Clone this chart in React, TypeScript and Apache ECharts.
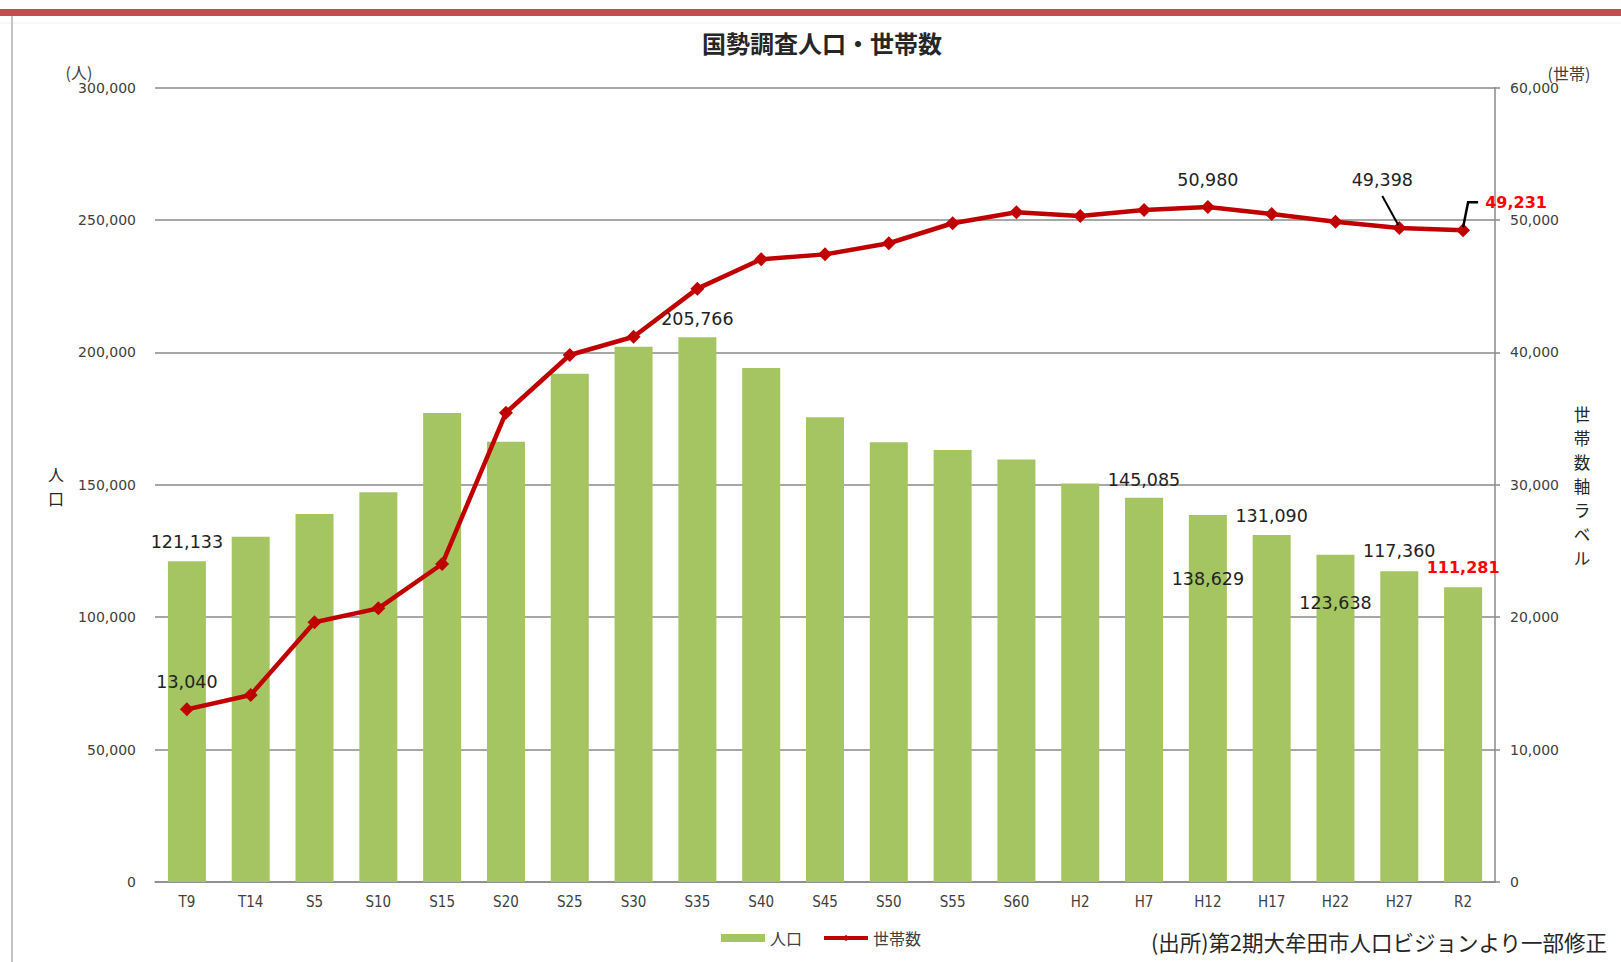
import React, { useEffect, useRef } from "react";
import * as echarts from "echarts";

const categories = ["T9", "T14", "S5", "S10", "S15", "S20", "S25", "S30", "S35", "S40", "S45", "S50", "S55", "S60", "H2", "H7", "H12", "H17", "H22", "H27", "R2"];
const population = [121133, 130400, 139000, 147200, 177100, 166300, 192000, 202200, 205766, 194100, 175500, 166100, 163200, 159600, 150500, 145085, 138629, 131090, 123638, 117360, 111281];
const households = [13040, 14130, 19620, 20670, 24020, 35450, 39810, 41190, 44820, 47040, 47410, 48250, 49760, 50590, 50310, 50760, 50980, 50460, 49880, 49398, 49231];
const leftTicks = [0, 50000, 100000, 150000, 200000, 250000, 300000];
const rightTicks = [0, 10000, 20000, 30000, 40000, 50000, 60000];

const TITLE = "国勢調査人口・世帯数";
const SOURCE = "(出所)第2期大牟田市人口ビジョンより一部修正";
const LEFT_NAME = "人口";
const RIGHT_NAME = "世帯数軸ラベル";

const fmt = (v: number) => v.toLocaleString("en-US");
const LABEL_FONT = "'DejaVu Sans', Verdana, sans-serif";
const CJK = "'Noto Sans CJK JP', 'Noto Sans', sans-serif";

const barLabelCfg: Record<number, any> = {
  0: { position: "top", distance: 10 },
  8: { position: "top", distance: 9 },
  15: { position: "top", distance: 9 },
  16: { position: "insideTop", distance: 55 },
  17: { position: "top", distance: 10 },
  18: { position: "insideTop", distance: 39 },
  19: { position: "top", distance: 11 },
  20: { position: "top", distance: 12, color: "#ff0000", fontWeight: "bold", fontSize: 16 },
};
const lineLabelCfg: Record<number, any> = {
  0: { position: "top", distance: 11 },
  16: { position: "top", distance: 11 },
  19: { position: "top", distance: 5, offset: [-17, -27] },
  20: { position: "top", distance: 5, offset: [53, -7.5], color: "#ff0000", fontWeight: "bold", fontSize: 16 },
};

function verticalText(str: string, x: number, yCenter: number, size: number, pitch: number) {
  const chars = Array.from(str);
  const y0 = yCenter - ((chars.length - 1) * pitch) / 2;
  return chars.map((c, i) => ({
    type: "text",
    x,
    y: y0 + i * pitch,
    style: {
      text: c,
      fontSize: size,
      lineHeight: pitch - 1,
      fontFamily: CJK,
      fill: "#262626",
      textAlign: "center",
      textVerticalAlign: "middle",
      align: "center",
      verticalAlign: "middle",
    },
  }));
}

export default function App() {
  const ref = useRef<HTMLDivElement>(null);
  useEffect(() => {
    if (!ref.current) return;
    const chart = echarts.init(ref.current, null, { renderer: "svg" });
    const baseLabel = {
      show: true,
      color: "#222",
      fontSize: 17.5,
      fontFamily: LABEL_FONT,
      formatter: (p: any) => fmt(p.value),
    };
    const barData = population.map((v, i) =>
      barLabelCfg[i] ? { value: v, label: { ...baseLabel, ...barLabelCfg[i] } } : v
    );
    const lineData = households.map((v, i) =>
      lineLabelCfg[i] ? { value: v, label: { ...baseLabel, ...lineLabelCfg[i] } } : v
    );
    chart.setOption({
      animation: false,
      backgroundColor: "#ffffff",
      title: {
        text: TITLE,
        left: 817,
        top: 23,
        textAlign: "center",
        textStyle: { fontFamily: CJK, fontSize: 24, fontWeight: "bold", color: "#262626", lineHeight: 28 },
      },
      legend: {
        left: 716,
        top: 925,
        itemWidth: 44,
        itemHeight: 8,
        itemGap: 20,
        textStyle: { fontFamily: CJK, fontSize: 16, color: "#404040" },
        data: [
          { name: "人口", icon: "rect" },
          { name: "世帯数", lineStyle: { width: 4, color: "#c00000" } },
        ],
      },
      grid: { left: 155, right: 126, top: 87.7, bottom: 80, containLabel: false },
      xAxis: {
        type: "category",
        data: categories,
        axisLine: { show: true, lineStyle: { color: "#8a8a8a", width: 1.5 } },
        axisTick: { show: false },
        axisLabel: {
          color: "#404040",
          fontSize: 15,
          margin: 12,
          fontFamily: "'Liberation Sans Narrow', 'DejaVu Sans Condensed', 'Liberation Sans', sans-serif",
        },
      },
      yAxis: [
        {
          type: "value",
          min: leftTicks[0],
          max: leftTicks[leftTicks.length - 1],
          interval: leftTicks[1] - leftTicks[0],
          axisLine: { show: false },
          axisTick: { show: false },
          axisLabel: { color: "#404040", fontSize: 14, fontFamily: LABEL_FONT, margin: 19, formatter: (v: number) => fmt(v) },
          splitLine: { show: true, lineStyle: { color: "#8a8a8a", width: 1.5 } },
        },
        {
          type: "value",
          min: rightTicks[0],
          max: rightTicks[rightTicks.length - 1],
          interval: rightTicks[1] - rightTicks[0],
          position: "right",
          axisLine: { show: true, lineStyle: { color: "#8a8a8a", width: 1.5 } },
          axisTick: { show: true, length: 5, lineStyle: { color: "#8a8a8a", width: 1.5 } },
          axisLabel: { color: "#404040", fontSize: 14, fontFamily: LABEL_FONT, margin: 15, formatter: (v: number) => fmt(v) },
          splitLine: { show: false },
        },
      ],
      series: [
        {
          name: "人口",
          type: "bar",
          yAxisIndex: 0,
          barWidth: 38,
          itemStyle: { color: "#a5c563" },
          data: barData,
          z: 2,
        },
        {
          name: "世帯数",
          type: "line",
          yAxisIndex: 1,
          symbol: "diamond",
          symbolSize: 14,
          itemStyle: { color: "#c00000" },
          lineStyle: { color: "#c00000", width: 4.5 },
          data: lineData,
          z: 3,
        },
      ],
    });

    const p19 = chart.convertToPixel({ seriesIndex: 1 }, [categories[19], households[19]]) as number[];
    const p20 = chart.convertToPixel({ seriesIndex: 1 }, [categories[20], households[20]]) as number[];

    chart.setOption({
      graphic: [
        { type: "rect", shape: { x: 0, y: 9, width: 1621, height: 7 }, style: { fill: "#c0504d" }, z: 1 },
        { type: "line", shape: { x1: 0, y1: 23, x2: 1621, y2: 23 }, style: { stroke: "#eeeeee", lineWidth: 1 }, z: 1 },
        { type: "line", shape: { x1: 12, y1: 16, x2: 12, y2: 962 }, style: { stroke: "#c4c4c4", lineWidth: 2 }, z: 1 },
        {
          type: "text",
          x: 79,
          y: 72,
          style: { text: "(人)", fontSize: 16, fontFamily: CJK, fill: "#404040", textAlign: "center", textVerticalAlign: "middle", align: "center", verticalAlign: "middle" },
        },
        {
          type: "text",
          x: 1569,
          y: 73,
          style: { text: "(世帯)", fontSize: 16, fontFamily: CJK, fill: "#404040", textAlign: "center", textVerticalAlign: "middle", align: "center", verticalAlign: "middle" },
        },
        ...verticalText(LEFT_NAME, 56, 486, 16, 23.5),
        ...verticalText(RIGHT_NAME, 1582, 486, 16.5, 24),
        {
          type: "text",
          x: 1607,
          y: 941,
          style: { text: SOURCE, fontSize: 21.5, fontFamily: CJK, fill: "#262626", textAlign: "right", textVerticalAlign: "middle", align: "right", verticalAlign: "middle" },
        },
        {
          type: "line",
          z: 10,
          shape: { x1: p19[0] - 1, y1: p19[1] - 3, x2: p19[0] - 17, y2: p19[1] - 32 },
          style: { stroke: "#000000", lineWidth: 2 },
        },
        {
          type: "polyline",
          z: 10,
          shape: { points: [[p20[0], p20[1] - 3], [p20[0] + 5, p20[1] - 28], [p20[0] + 15, p20[1] - 28]] },
          style: { stroke: "#000000", lineWidth: 2.5, fill: "none" },
        },
      ],
    });

    return () => chart.dispose();
  }, []);
  return (
    <div
      ref={ref}
      style={{ position: "fixed", left: 0, top: 0, width: 1621, height: 962, background: "#ffffff" }}
    />
  );
}
